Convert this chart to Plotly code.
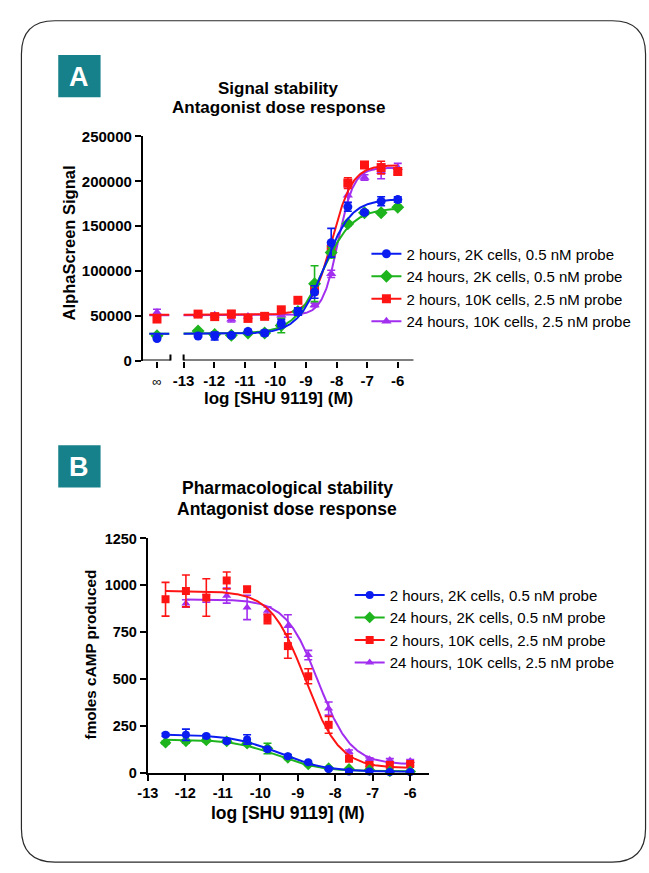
import numpy as np
import plotly.graph_objects as go

W, H = 649, 873
FONT = "Liberation Sans"

# ---------------- data ----------------
series_names = ["2 hours, 2K cells, 0.5 nM probe",
                "24 hours, 2K cells, 0.5 nM probe",
                "2 hours, 10K cells, 2.5 nM probe",
                "24 hours, 10K cells, 2.5 nM probe"]
colors = ["#0a1cf0", "#1eb41e", "#ff1414", "#a22ff0"]
symbols = ["circle", "diamond", "square", "triangle-up"]

log_conc = [-12.528, -11.984, -11.44, -10.896, -10.352, -9.808, -9.264,
            -8.72, -8.176, -7.632, -7.088, -6.544, -6.0]

# Panel A: AlphaScreen signal
a_blue = [27400, 27400, 28100, 32400, 30700, 41600, 54700, 76400, 131400, 171500, 165300, 177700, 179600]
a_blue_err = [1500, 4500, 1500, 1500, 3000, 4000, 4000, 7000, 16000, 5000, 2000, 5000, 3000]
a_green = [32800, 29000, 28100, 30700, 30700, 39000, 54700, 85700, 120400, 152500, 165000, 165000, 171100]
a_green_err = [1500, 1500, 1500, 1500, 2000, 8000, 3000, 20000, 6000, 2000, 2000, 2000, 2000]
a_red = [51800, 49000, 51800, 47000, 49300, 56600, 67200, 79800, 124200, 198000, 218200, 215300, 210900]
a_red_err = [2000, 1500, 4000, 2000, 1500, 2000, 2000, 6000, 8000, 6000, 2000, 7000, 3000]
a_purple = [51000, 50500, 46000, 49000, 49500, 50500, 52900, 62000, 96700, 184300, 204300, 210900, 215000]
a_purple_err = [1500, 1500, 3000, 1500, 1500, 1500, 2000, 2000, 4000, 8000, 3000, 8000, 5000]
a_inf_vals = [24600, 27500, 46300, 53600]
a_inf_err = [0, 0, 2000, 3600]

# Panel A 4PL fit parameters
fitA_low = [30000, 30000, 51000, 50500]
fitA_high = [180000, 170000, 218000, 215000]
fitA_logc = [-8.4, -8.45, -8.15, -7.95]
fitA_hill = [1.0, 0.9, 1.3, 1.7]

# Panel B: fmoles cAMP produced
b_blue = [203, 203, 196, 168, 178, 126, 89, 56, 21, 7, 7, 5, 5]
b_blue_err = [8, 30, 8, 8, 25, 8, 8, 6, 5, 3, 3, 3, 3]
b_green = [161, 168, 173, 168, 156, 130, 80, 45, 25, 21, 15, 7, 7]
b_green_err = [8, 10, 8, 8, 8, 28, 8, 5, 5, 4, 3, 3, 3]
b_red = [926, 970, 935, 1026, 979, 821, 676, 515, 256, 75, 42, 42, 47]
b_red_err = [90, 85, 100, 45, 15, 25, 65, 40, 45, 10, 8, 8, 8]
b_purple = [None, 903, 930, 945, 882, 865, 783, 628, 343, 112, 72, 68, 63]
b_purple_err = [None, 20, 20, 40, 65, 20, 60, 25, 35, 10, 8, 8, 8]

fitB_low = [205, 178, 970, 925]
fitB_high = [5, 8, 25, 45]
fitB_logc = [-9.5, -9.55, -8.8, -8.45]
fitB_hill = [0.7, 0.75, 0.95, 1.0]

x_ticks = [-13, -12, -11, -10, -9, -8, -7, -6]
yA_ticks = [0, 50000, 100000, 150000, 200000, 250000]
yB_ticks = [0, 250, 500, 750, 1000, 1250]

INF_POS = -13.87          # position of the "infinity" (no drug) column
INF_SEG = (-14.12, -13.47)
A_XRANGE = (-14.33, -5.48)
A_BREAK = (-13.43, -13.0)
B_XRANGE = (-13.0, -5.5)

A_series = [(a_blue, a_blue_err), (a_green, a_green_err), (a_red, a_red_err), (a_purple, a_purple_err)]
B_series = [(b_blue, b_blue_err), (b_green, b_green_err), (b_red, b_red_err), (b_purple, b_purple_err)]


def fourpl(x, low, high, logc, hill):
    return low + (high - low) / (1.0 + 10.0 ** ((logc - x) * hill))


def px(xp):
    return xp / W


def py(yp):
    return 1 - yp / H


fig = go.Figure()
draw_order = [3, 2, 1, 0]
msizeA = [9, 10, 9, 9]
msizeB = [8, 9, 8, 8]

# ---- Panel A ----
for i in draw_order:
    vals, err = A_series[i]
    xs = np.linspace(-13, -6, 300)
    ys = fourpl(xs, fitA_low[i], fitA_high[i], fitA_logc[i], fitA_hill[i])
    fig.add_trace(go.Scatter(x=xs, y=ys, mode="lines", line=dict(color=colors[i], width=2),
                             showlegend=False, xaxis="x", yaxis="y", hoverinfo="skip"))
    fig.add_trace(go.Scatter(x=list(INF_SEG), y=[fitA_low[i]] * 2, mode="lines",
                             line=dict(color=colors[i], width=2), showlegend=False,
                             xaxis="x", yaxis="y", hoverinfo="skip"))
    fig.add_trace(go.Scatter(x=log_conc + [INF_POS], y=vals + [a_inf_vals[i]], mode="markers",
                             marker=dict(color=colors[i], symbol=symbols[i], size=msizeA[i], line=dict(width=0)),
                             error_y=dict(type="data", array=err + [a_inf_err[i]], color=colors[i],
                                          thickness=1.6, width=4),
                             showlegend=False, cliponaxis=False, xaxis="x", yaxis="y"))
for i in range(4):
    fig.add_trace(go.Scatter(x=[None], y=[None], mode="lines+markers", name=series_names[i],
                             line=dict(color=colors[i], width=2),
                             marker=dict(color=colors[i], symbol=symbols[i], size=msizeA[i]),
                             legend="legend", legendrank=i + 1, xaxis="x", yaxis="y"))

# ---- Panel B ----
for i in draw_order:
    vals, err = B_series[i]
    first = next(k for k, v in enumerate(vals) if v is not None)
    xs = np.linspace(log_conc[first], -6, 300)
    ys = fourpl(xs, fitB_low[i], fitB_high[i], fitB_logc[i], fitB_hill[i])
    fig.add_trace(go.Scatter(x=xs, y=ys, mode="lines", line=dict(color=colors[i], width=2),
                             showlegend=False, xaxis="x2", yaxis="y2", hoverinfo="skip"))
    fig.add_trace(go.Scatter(x=log_conc, y=vals, mode="markers",
                             marker=dict(color=colors[i], symbol=symbols[i], size=msizeB[i], line=dict(width=0)),
                             error_y=dict(type="data", array=err, color=colors[i], thickness=1.6, width=4),
                             showlegend=False, cliponaxis=False, xaxis="x2", yaxis="y2"))
for i in range(4):
    fig.add_trace(go.Scatter(x=[None], y=[None], mode="lines+markers", name=series_names[i],
                             line=dict(color=colors[i], width=2),
                             marker=dict(color=colors[i], symbol=symbols[i], size=msizeB[i]),
                             legend="legend2", legendrank=i + 1, xaxis="x2", yaxis="y2"))

tickfontA = dict(family=FONT, size=15, color="black", weight="bold")
tickfontB = dict(family=FONT, size=14.5, color="black", weight="bold")
axis_common = dict(showgrid=False, zeroline=False, ticks="outside", ticklen=6, tickwidth=2,
                   tickcolor="black", linecolor="black", linewidth=2)

fig.update_layout(
    width=W, height=H, autosize=False,
    margin=dict(l=0, r=0, t=0, b=0),
    paper_bgcolor="white", plot_bgcolor="white",
    xaxis=dict(domain=[px(135), px(410)], range=list(A_XRANGE), anchor="y", showline=False,
               tickvals=[INF_POS] + x_ticks,
               ticktext=['<span style="font-weight:normal;font-size:13px">∞</span>'] + [str(t) for t in x_ticks],
               tickfont=tickfontA, **axis_common),
    yaxis=dict(domain=[py(358.5), py(130)], range=[0, 250000], anchor="x", showline=True,
               tickvals=yA_ticks, ticktext=[str(t) for t in yA_ticks], tickfont=tickfontA, **axis_common),
    xaxis2=dict(domain=[px(140), px(425.5)], range=list(B_XRANGE), anchor="y2", showline=True,
                tickvals=x_ticks, ticktext=[str(t) for t in x_ticks], tickfont=tickfontB, **axis_common),
    yaxis2=dict(domain=[py(779), py(540)], range=[0, 1250], anchor="x2", showline=True,
                tickvals=yB_ticks, ticktext=[str(t) for t in yB_ticks], tickfont=tickfontB, **axis_common),
    legend=dict(x=px(362), y=py(233), xanchor="left", yanchor="top", bgcolor="rgba(0,0,0,0)",
                font=dict(family=FONT, size=15, color="black"), itemwidth=30, tracegroupgap=0,
                traceorder="normal"),
    legend2=dict(x=px(345), y=py(581), xanchor="left", yanchor="top", bgcolor="rgba(0,0,0,0)",
                 font=dict(family=FONT, size=15, color="black"), itemwidth=30, tracegroupgap=0,
                 traceorder="normal"),
    showlegend=True,
)

shapes = []
# broken x-axis in panel A
for (x0, x1) in [(A_XRANGE[0], A_BREAK[0]), (A_BREAK[1], A_XRANGE[1])]:
    shapes.append(dict(type="line", xref="x", yref="y", x0=x0, x1=x1, y0=0, y1=0,
                       line=dict(color="black", width=2), layer="above"))
for xb in A_BREAK:
    shapes.append(dict(type="line", xref="x", yref="y", x0=xb, x1=xb, ysizemode="pixel", yanchor=0,
                       y0=-6, y1=6, line=dict(color="black", width=2), layer="above"))

# rounded frame
L, T, R, B, r = 11.6, 12, 645.5, 870, 34
path = (f"M {px(L + r)},{py(T)} L {px(R - r)},{py(T)} Q {px(R)},{py(T)} {px(R)},{py(T + r)} "
        f"L {px(R)},{py(B - r)} Q {px(R)},{py(B)} {px(R - r)},{py(B)} "
        f"L {px(L + r)},{py(B)} Q {px(L)},{py(B)} {px(L)},{py(B - r)} "
        f"L {px(L)},{py(T + r)} Q {px(L)},{py(T)} {px(L + r)},{py(T)} Z")
shapes.append(dict(type="path", xref="paper", yref="paper", path=path,
                   line=dict(color="#2a2a2a", width=1.2), fillcolor="rgba(0,0,0,0)"))
# badges
TEAL = "#16818a"
for (y0, y1) in [(47, 90), (445, 488)]:
    shapes.append(dict(type="rect", xref="paper", yref="paper", x0=px(49), x1=px(92),
                       y0=py(y1), y1=py(y0), fillcolor=TEAL, line=dict(width=0)))
fig.update_layout(shapes=shapes)


def ann(text, x, y, size, bold=True, color="black", angle=0):
    return dict(text=text, x=px(x), y=py(y), xref="paper", yref="paper", showarrow=False,
                xanchor="center", yanchor="middle", textangle=angle,
                font=dict(family=FONT, size=size, color=color, weight="bold" if bold else "normal"))


annotations = [
    ann("A", 70.5, 69, 27, color="white"),
    ann("B", 70.5, 467, 27, color="white"),
    ann("Signal stability", 272.5, 81, 17),
    ann("Antagonist dose response", 272.5, 100, 17),
    ann("Pharmacological stability", 281.5, 489, 17.5),
    ann("Antagonist dose response", 281.5, 509.5, 17.5),
    ann("log [SHU 9119] (M)", 272.5, 397, 17),
    ann("log [SHU 9119] (M)", 282.5, 820, 17.5),
    ann("AlphaScreen Signal", 60, 239, 16.5, angle=-90),
    ann("fmoles cAMP produced", 81.5, 658, 15.3, angle=-90),
]
fig.update_layout(annotations=annotations)

fig.write_html("out.html", config={"displayModeBar": False},
               post_script="document.body.style.margin='0';")
